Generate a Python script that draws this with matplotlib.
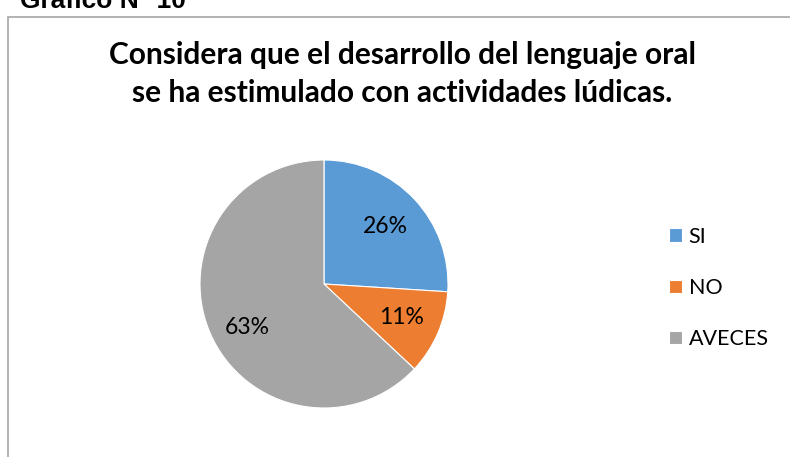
import matplotlib.pyplot as plt
from matplotlib.patches import Rectangle

labels = ["SI", "NO", "AVECES"]
values = [26, 11, 63]
colors = ["#5b9bd5", "#ed7d31", "#a5a5a5"]

title = "Considera que el desarrollo del lenguaje oral\nse ha estimulado con actividades lúdicas."

fig = plt.figure(figsize=(7.9, 4.57), dpi=100)

# chart frame (cut off on the right and bottom)
fig.patches.append(Rectangle((8 / 790, -0.1), 1.2, 1 - 17 / 457 + 0.1,
                             transform=fig.transFigure, fill=False,
                             edgecolor="#a6a6a6", linewidth=1.2))

fig.text(20 / 790, 1 - 8 / 457, "Gráfico N° 10", family="Liberation Sans",
         weight="bold", fontsize=19, va="baseline", ha="left")

fig.text(402 / 790, 1 - 74 / 457, title, family="Lato", weight="bold",
         fontsize=21.5, ha="center", va="center", linespacing=1.45)

ax = fig.add_axes([200 / 790, 49 / 457, 248 / 790, 248 / 457])
wedges, texts, autotexts = ax.pie(values, colors=colors, startangle=90,
                                  counterclock=False, autopct="%1.0f%%",
                                  pctdistance=0.68,
                                  wedgeprops=dict(linewidth=0.8, edgecolor="white"),
                                  textprops=dict(family="Lato", fontsize=16.5))
# Excel places the big slice's label a bit lower
autotexts[2].set_position((-0.62, -0.35))
ax.set_xlim(-1, 1)
ax.set_ylim(-1, 1)
ax.set_aspect("equal")

leg = fig.legend(wedges, labels, loc="center left",
                 bbox_to_anchor=(650 / 790, 1 - 288 / 457), frameon=False,
                 prop=dict(family="Lato", size=15.5), handlelength=0.6,
                 handleheight=0.6, handletextpad=0.3, labelspacing=1.45)

fig.savefig("out.png", dpi=100)
